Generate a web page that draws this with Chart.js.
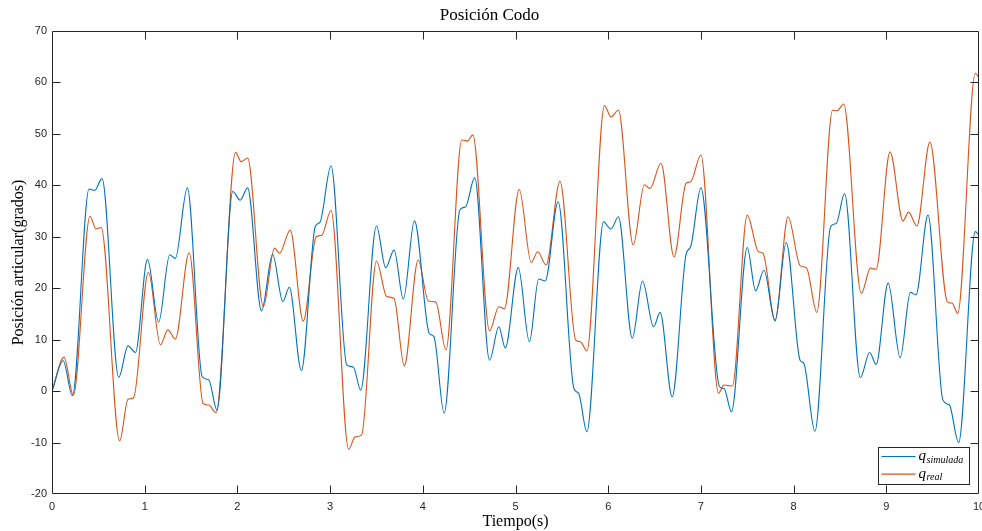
<!DOCTYPE html>
<html>
<head>
<meta charset="utf-8">
<script src="https://cdn.jsdelivr.net/npm/chart.js@4"></script>
<style>
    body { margin: 0; background: #fff; }
    #wrap { width: 982px; height: 531px; }
</style>
</head>
<body>
<div id="wrap"><canvas id="codo"></canvas></div>
<script>
// valores (tiempo en s, posicion en grados)
const simTime = [0, 0.12, 0.22, 0.40, 0.46, 0.54, 0.72, 0.82, 0.90, 1.03, 1.15, 1.27, 1.33, 1.46, 1.62, 1.69, 1.78,
    1.95, 2.03, 2.11, 2.26, 2.38, 2.49, 2.56, 2.69, 2.84, 2.89, 3.01, 3.18, 3.25, 3.33, 3.50, 3.60, 3.69, 3.79,
    3.91, 4.07, 4.12, 4.23, 4.40, 4.46, 4.56, 4.72, 4.82, 4.89, 5.03, 5.15, 5.25, 5.32, 5.46, 5.63, 5.68, 5.77,
    5.95, 6.03, 6.11, 6.26, 6.37, 6.49, 6.56, 6.69, 6.84, 6.89, 7.00, 7.20, 7.25, 7.33, 7.50, 7.59, 7.68, 7.80,
    7.92, 8.07, 8.11, 8.23, 8.40, 8.46, 8.55, 8.72, 8.82, 8.89, 9.02, 9.15, 9.26, 9.32, 9.45, 9.61, 9.68, 9.78,
    9.96, 10.0];
const simValues = [0, 5.9, -0.9, 39.3, 39.0, 41.3, 2.7, 8.8, 7.5, 25.6, 13.4, 26.5, 25.8, 39.5, 2.8, 2.2, -3.7,
    38.8, 37.1, 39.5, 15.6, 26.6, 17.4, 20.2, 4.0, 32.0, 32.8, 43.8, 5.1, 4.7, 0.2, 32.1, 24.0, 27.4, 17.9,
    33.1, 11.2, 10.6, -4.3, 35.2, 35.8, 41.5, 6.0, 12.5, 8.4, 24.0, 9.6, 21.8, 21.4, 36.8, 0.5, -0.4, -7.9,
    32.9, 31.5, 33.9, 10.3, 21.4, 12.5, 15.3, -1.1, 26.6, 28.1, 39.5, 0.9, 0.5, -4.0, 27.9, 19.5, 23.5, 13.6,
    28.9, 6.0, 5.4, -7.8, 32.0, 32.6, 38.4, 2.6, 7.5, 5.2, 21.0, 6.5, 19.2, 18.7, 34.2, -1.7, -2.7, -10.0,
    31.0, 30.3];

const realTime = [0, 0.13, 0.23, 0.41, 0.475, 0.53, 0.73, 0.82, 0.88, 1.04, 1.17, 1.25, 1.33, 1.48, 1.63, 1.69, 1.77,
    1.98, 2.04, 2.11, 2.28, 2.40, 2.455, 2.57, 2.71, 2.85, 2.91, 3.01, 3.20, 3.27, 3.34, 3.50, 3.61, 3.69, 3.80,
    3.95, 4.06, 4.14, 4.25, 4.42, 4.48, 4.54, 4.72, 4.82, 4.88, 5.04, 5.17, 5.24, 5.33, 5.48, 5.65, 5.70, 5.77,
    5.96, 6.03, 6.11, 6.27, 6.39, 6.45, 6.57, 6.71, 6.84, 6.89, 7.00, 7.19, 7.25, 7.34, 7.50, 7.62, 7.67, 7.80,
    7.94, 8.07, 8.14, 8.25, 8.42, 8.47, 8.54, 8.73, 8.83, 8.89, 9.04, 9.18, 9.24, 9.33, 9.47, 9.66, 9.71, 9.77,
    9.96, 10.0];
const realValues = [0, 6.6, -0.8, 34.0, 31.5, 31.8, -9.7, -1.6, -1.3, 23.1, 9.0, 11.9, 10.1, 26.9, -2.4, -2.7, -4.2,
    46.4, 44.6, 45.3, 16.4, 27.8, 26.8, 31.3, 13.6, 30.0, 30.3, 35.1, -11.3, -8.9, -8.5, 25.3, 18.4, 18.0, 4.9,
    25.5, 17.5, 17.3, 8.0, 48.8, 48.6, 49.8, 11.7, 16.4, 16.0, 39.2, 25.0, 27.1, 24.5, 40.8, 9.9, 9.6, 7.8,
    55.5, 53.3, 54.6, 28.4, 40.1, 39.4, 44.3, 26.1, 40.4, 40.7, 45.9, -0.4, 1.2, 1.0, 34.2, 27.1, 26.8, 13.8,
    33.9, 24.4, 23.9, 15.3, 54.6, 54.5, 55.8, 19.0, 23.9, 23.7, 46.5, 33.1, 34.8, 32.1, 48.4, 17.3, 17.1, 15.1,
    61.8, 60.9];

const xTicks = [0, 1, 2, 3, 4, 5, 6, 7, 8, 9, 10];
const yTicks = [-20, -10, 0, 10, 20, 30, 40, 50, 60, 70];
const seriesNames = ['simulada', 'real'];

const azul = '#0072BD';
const naranja = '#D95319';
const ejes = '#262626';

function toPoints(ts, vs) {
    return ts.map((t, i) => ({x: t, y: vs[i]}));
}

// caja estilo matlab con marcas hacia dentro
const cajaPlugin = {
    id: 'caja',
    afterDatasetsDraw(chart) {
        const {ctx, chartArea: a, scales: {x, y}} = chart;
        const L = Math.round(a.left) + 0.5, R = Math.round(a.right) - 0.5;
        const T = Math.round(a.top) + 0.5, B = Math.round(a.bottom) - 0.5;
        const len = 8;
        ctx.save();
        ctx.strokeStyle = ejes;
        ctx.lineWidth = 1;
        ctx.beginPath();
        ctx.rect(L, T, R - L, B - T);
        xTicks.forEach(v => {
            const px = Math.round(x.getPixelForValue(v)) + 0.5;
            if (px <= L || px >= R) return;
            ctx.moveTo(px, B); ctx.lineTo(px, B - len);
            ctx.moveTo(px, T); ctx.lineTo(px, T + len);
        });
        yTicks.forEach(v => {
            const py = Math.round(y.getPixelForValue(v)) + 0.5;
            if (py <= T || py >= B) return;
            ctx.moveTo(L, py); ctx.lineTo(L + len, py);
            ctx.moveTo(R, py); ctx.lineTo(R - len, py);
        });
        ctx.stroke();
        ctx.restore();
    },
    afterDraw(chart) {
        // leyenda abajo a la derecha
        const {ctx, chartArea: a} = chart;
        const w = 91, h = 37;
        const bx = Math.round(a.right - 10 - w) + 0.5;
        const by = Math.round(a.bottom - 10 - h) + 0.5;
        ctx.save();
        ctx.fillStyle = '#fff';
        ctx.fillRect(bx, by, w, h);
        ctx.strokeStyle = ejes;
        ctx.lineWidth = 1;
        ctx.strokeRect(bx, by, w, h);
        const colores = [azul, naranja];
        seriesNames.forEach((name, i) => {
            const ly = by + 9 + i * 17.6;
            ctx.strokeStyle = colores[i];
            ctx.lineWidth = 1.1;
            ctx.beginPath();
            ctx.moveTo(bx + 3, ly);
            ctx.lineTo(bx + 37, ly);
            ctx.stroke();
            ctx.fillStyle = '#000';
            ctx.textBaseline = 'alphabetic';
            ctx.font = 'italic 15px "Liberation Serif"';
            ctx.fillText('q', bx + 40, ly + 3.5);
            const qw = ctx.measureText('q').width;
            ctx.font = 'italic 10px "Liberation Serif"';
            ctx.fillText(name, bx + 40 + qw + 0.5, ly + 6);
        });
        ctx.restore();
    }
};

const canvas = document.getElementById('codo');

let codoChart = new Chart(canvas, {
    type: 'line',
    data: {
        datasets: [{
            label: 'q simulada',
            data: toPoints(simTime, simValues),
            borderColor: azul,
            borderWidth: 1.1,
            pointRadius: 0,
            cubicInterpolationMode: 'monotone'
        }, {
            label: 'q real',
            data: toPoints(realTime, realValues),
            borderColor: naranja,
            borderWidth: 1.1,
            pointRadius: 0,
            cubicInterpolationMode: 'monotone'
        }]
    },
    options: {
        responsive: true,
        maintainAspectRatio: false,
        animation: false,
        layout: {
            padding: {left: 0, right: 3, top: 0, bottom: 0}
        },
        scales: {
            x: {
                type: 'linear',
                min: 0,
                max: 10,
                afterFit: scale => {
                    scale.height = 37;
                    scale.paddingRight = 3;
                },
                afterBuildTicks: scale => {
                    scale.ticks = xTicks.map(v => ({value: v}));
                },
                grid: {display: false, drawTicks: false},
                border: {display: false},
                ticks: {
                    color: ejes,
                    padding: 6,
                    maxRotation: 0,
                    font: {family: '"Liberation Sans"', size: 11}
                },
                title: {
                    display: true,
                    text: 'Tiempo(s)',
                    color: '#000',
                    padding: {top: 0, bottom: 0},
                    font: {family: '"Liberation Serif"', size: 16}
                }
            },
            y: {
                min: -20,
                max: 70,
                afterFit: scale => {
                    scale.width = 52;
                },
                afterBuildTicks: scale => {
                    scale.ticks = yTicks.map(v => ({value: v}));
                },
                grid: {display: false, drawTicks: false},
                border: {display: false},
                ticks: {
                    color: ejes,
                    padding: 5,
                    font: {family: '"Liberation Sans"', size: 11}
                },
                title: {
                    display: true,
                    text: 'Posición articular(grados)',
                    color: '#000',
                    padding: {top: 9, bottom: 0},
                    font: {family: '"Liberation Serif"', size: 16}
                }
            }
        },
        plugins: {
            legend: {display: false},
            tooltip: {enabled: false},
            title: {
                display: true,
                text: 'Posición Codo',
                color: '#000',
                padding: {top: 5, bottom: 5.6},
                font: {family: '"Liberation Serif"', size: 17, weight: 'normal'}
            }
        }
    },
    plugins: [cajaPlugin]
});
</script>
</body>
</html>
